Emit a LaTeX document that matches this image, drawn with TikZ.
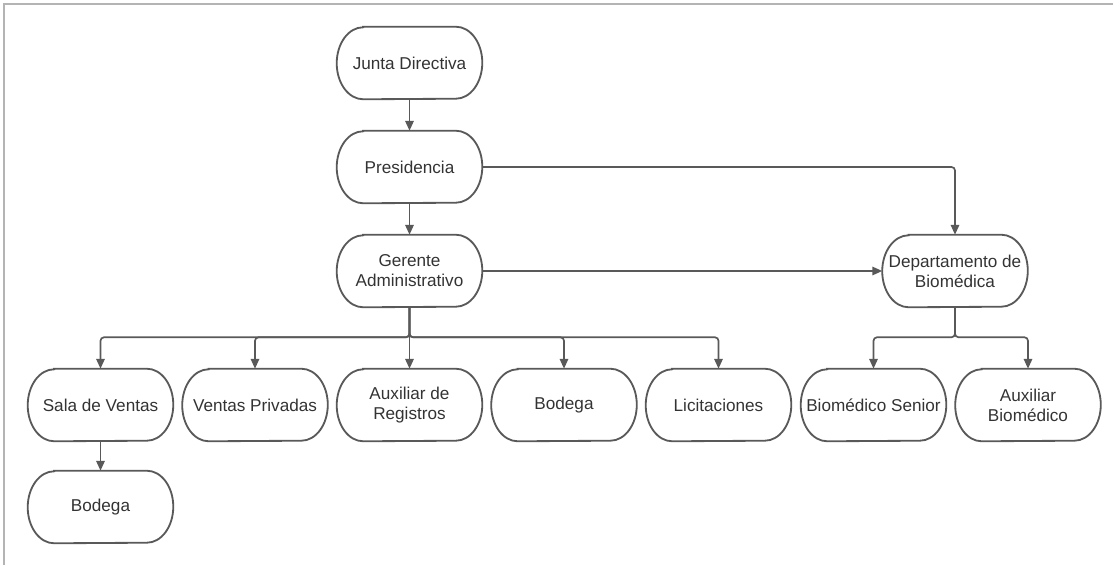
\documentclass[tikz,border=0pt]{standalone}
\usepackage{fontspec}
\setmainfont{Liberation Sans}
\usepackage{xcolor}
\usetikzlibrary{calc, arrows.meta}

\definecolor{boxgrey}{HTML}{595959}
\definecolor{textgrey}{HTML}{333333}
\definecolor{framegrey}{HTML}{B4B4B4}

% name, position, text
\newcommand{\orgbox}[3]{%
	\node [box text] (#1) at (#2) {#3};
	\draw [box line] ($ (#1.north west) + (\rx,0) $) -- ($ (#1.north east) - (\rx,0) $)
		arc [start angle = 90, end angle = -90, x radius = \rx, y radius = \ry]
		-- ($ (#1.south west) + (\rx,0) $)
		arc [start angle = 270, end angle = 90, x radius = \rx, y radius = \ry] -- cycle;
}

\begin{document}
\begin{tikzpicture}[
		box text/.style = {minimum width = 3.625cm, minimum height = 1.8cm, inner sep = 0pt, align = center, text = textgrey, font = \fontsize{12.2pt}{14.2pt}\selectfont},
		box line/.style = {draw = boxgrey, line width = 1.3pt},
		link/.style = {draw = boxgrey, line width = 1.2pt, rounded corners = 2.5pt, -{Triangle[length = 7pt, width = 6pt]}}
	]
		\useasboundingbox (0,0) rectangle (27.825,-14.125);
		
		\def\rx{0.66};
		\def\ry{0.9};
		\def\col{10.2375};
		\def\gap{3.8625};
		\def\rowy{-10.125};
		
		%frame
		\draw [framegrey, line width = 1.4pt] (0.11,-14.5) -- (0.11,-0.1) -- (28.2,-0.1);
		
		%top of the chart
		\orgbox{junta}{\col,-1.575}{Junta Directiva}
		\orgbox{presidencia}{\col,-4.175}{Presidencia}
		\orgbox{gerente}{\col,-6.775}{Gerente\\Administrativo}
		\orgbox{biomedica}{23.875,-6.775}{Departamento de\\Biomédica}
		
		%second row
		\orgbox{sala}{{\col - 2*\gap},\rowy}{Sala de Ventas}
		\orgbox{privadas}{{\col - \gap},\rowy}{Ventas Privadas}
		\orgbox{registros}{\col,\rowy}{Auxiliar de\\Registros}
		\orgbox{bodega}{{\col + \gap},\rowy}{Bodega}
		\orgbox{licitaciones}{{\col + 2*\gap},\rowy}{Licitaciones}
		\orgbox{senior}{21.8375,\rowy}{Biomédico Senior}
		\orgbox{auxbio}{25.7,\rowy}{Auxiliar\\Biomédico}
		
		\orgbox{bodega sala}{{\col - 2*\gap},-12.675}{Bodega}
		
		%connectors
		\draw [link] (junta) -- (presidencia);
		\draw [link] (presidencia) -- (gerente);
		\draw [link] (presidencia.east) -| (biomedica.north);
		\draw [link] (gerente.east) -- (biomedica.west);
		
		\foreach \child in {sala, privadas, registros, bodega, licitaciones}
			\draw [link] (gerente.south) -- ++(0,-0.75) -| (\child.north);
		
		\foreach \child in {senior, auxbio}
			\draw [link] (biomedica.south) -- ++(0,-0.75) -| (\child.north);
		
		\draw [link] (sala) -- (bodega sala);
	\end{tikzpicture}
\end{document}
